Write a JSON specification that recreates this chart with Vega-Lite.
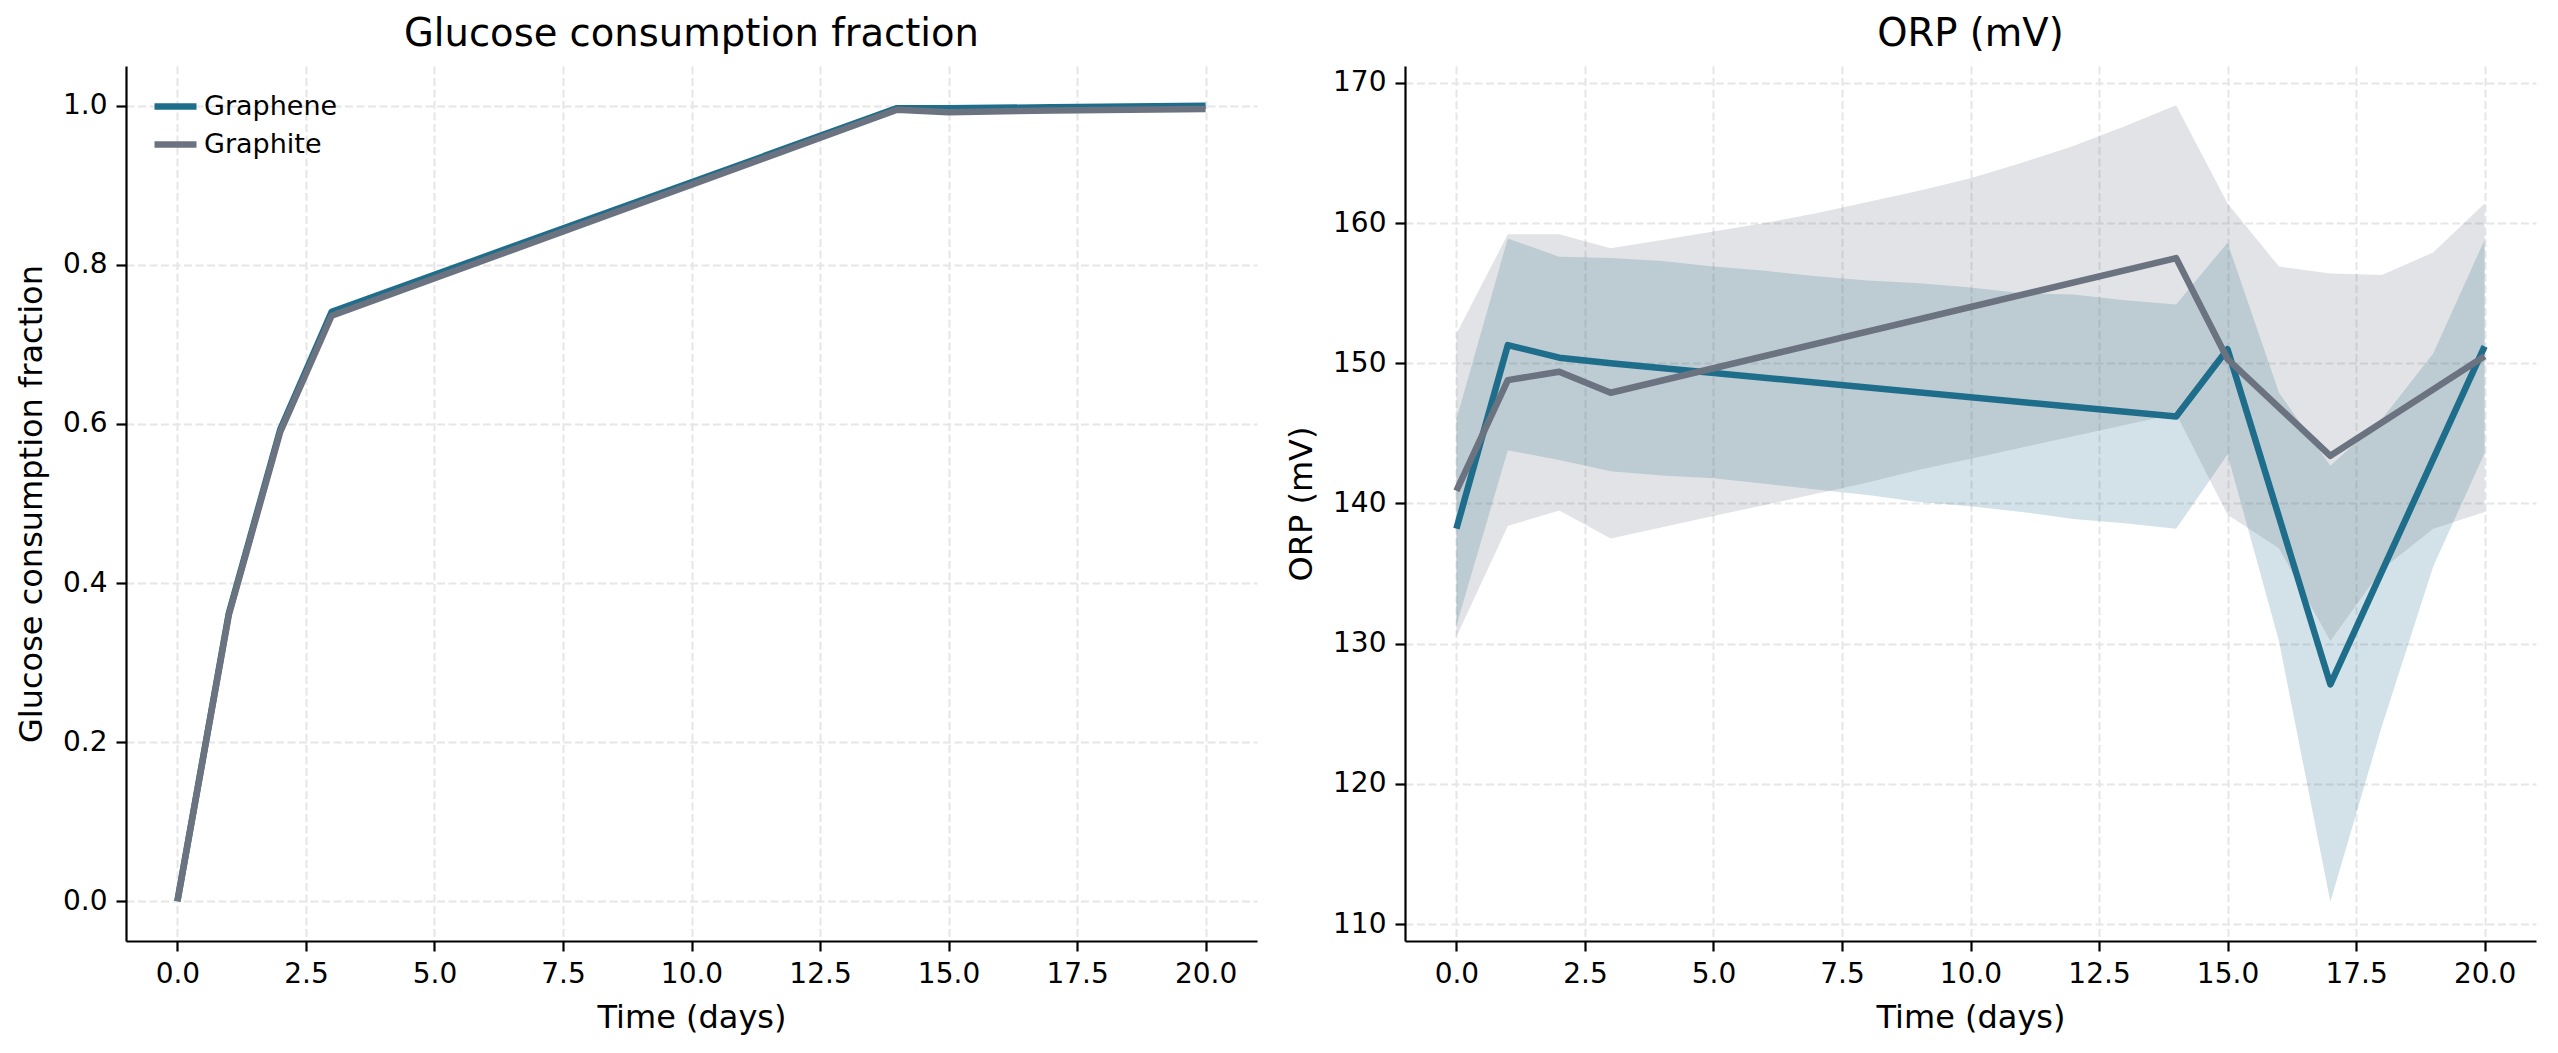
{
  "$schema": "https://vega.github.io/schema/vega-lite/v6.json",
  "background": "white",
  "padding": {"left": 15, "top": 14, "right": 18, "bottom": 20},
  "bounds": "flush",
  "spacing": 148,
  "datasets": {
    "glucose": [
      {"day": 0, "material": "Graphene", "fraction": 0.0},
      {"day": 1, "material": "Graphene", "fraction": 0.362},
      {"day": 2, "material": "Graphene", "fraction": 0.593},
      {"day": 3, "material": "Graphene", "fraction": 0.741},
      {"day": 14, "material": "Graphene", "fraction": 0.997},
      {"day": 15, "material": "Graphene", "fraction": 0.997},
      {"day": 17, "material": "Graphene", "fraction": 0.998},
      {"day": 20, "material": "Graphene", "fraction": 1.0},
      {"day": 0, "material": "Graphite", "fraction": 0.0},
      {"day": 1, "material": "Graphite", "fraction": 0.36},
      {"day": 2, "material": "Graphite", "fraction": 0.59},
      {"day": 3, "material": "Graphite", "fraction": 0.736},
      {"day": 14, "material": "Graphite", "fraction": 0.995},
      {"day": 15, "material": "Graphite", "fraction": 0.992},
      {"day": 17, "material": "Graphite", "fraction": 0.994},
      {"day": 20, "material": "Graphite", "fraction": 0.996}
    ],
    "orp": [
      {"day": 0, "material": "Graphene", "orp": 138.2},
      {"day": 1, "material": "Graphene", "orp": 151.3},
      {"day": 2, "material": "Graphene", "orp": 150.4},
      {"day": 3, "material": "Graphene", "orp": 150.0},
      {"day": 14, "material": "Graphene", "orp": 146.2},
      {"day": 15, "material": "Graphene", "orp": 151.0},
      {"day": 17, "material": "Graphene", "orp": 127.1},
      {"day": 20, "material": "Graphene", "orp": 151.2},
      {"day": 0, "material": "Graphite", "orp": 140.9},
      {"day": 1, "material": "Graphite", "orp": 148.8},
      {"day": 2, "material": "Graphite", "orp": 149.4},
      {"day": 3, "material": "Graphite", "orp": 147.9},
      {"day": 14, "material": "Graphite", "orp": 157.5},
      {"day": 15, "material": "Graphite", "orp": 150.3},
      {"day": 17, "material": "Graphite", "orp": 143.4},
      {"day": 20, "material": "Graphite", "orp": 150.5}
    ],
    "orp_band": [
      {"day": 0, "material": "Graphene", "lo": 131.3, "hi": 146.0},
      {"day": 1, "material": "Graphene", "lo": 143.8, "hi": 158.9},
      {"day": 2, "material": "Graphene", "lo": 143.1, "hi": 157.6},
      {"day": 3, "material": "Graphene", "lo": 142.3, "hi": 157.5},
      {"day": 4, "material": "Graphene", "lo": 142.0, "hi": 157.3},
      {"day": 5, "material": "Graphene", "lo": 141.8, "hi": 156.9},
      {"day": 6, "material": "Graphene", "lo": 141.4, "hi": 156.6},
      {"day": 7, "material": "Graphene", "lo": 141.0, "hi": 156.2},
      {"day": 8, "material": "Graphene", "lo": 140.6, "hi": 155.9},
      {"day": 9, "material": "Graphene", "lo": 140.1, "hi": 155.7},
      {"day": 10, "material": "Graphene", "lo": 139.8, "hi": 155.4},
      {"day": 11, "material": "Graphene", "lo": 139.4, "hi": 155.0},
      {"day": 12, "material": "Graphene", "lo": 138.9, "hi": 154.9},
      {"day": 13, "material": "Graphene", "lo": 138.6, "hi": 154.5},
      {"day": 14, "material": "Graphene", "lo": 138.2, "hi": 154.2},
      {"day": 15, "material": "Graphene", "lo": 143.5, "hi": 158.6},
      {"day": 16, "material": "Graphene", "lo": 130.2, "hi": 147.9},
      {"day": 17, "material": "Graphene", "lo": 111.6, "hi": 142.7},
      {"day": 18, "material": "Graphene", "lo": 124.1, "hi": 146.0},
      {"day": 19, "material": "Graphene", "lo": 135.5, "hi": 150.7},
      {"day": 20, "material": "Graphene", "lo": 143.6, "hi": 158.8},
      {"day": 0, "material": "Graphite", "lo": 130.5, "hi": 152.1},
      {"day": 1, "material": "Graphite", "lo": 138.4, "hi": 159.2},
      {"day": 2, "material": "Graphite", "lo": 139.5, "hi": 159.2},
      {"day": 3, "material": "Graphite", "lo": 137.5, "hi": 158.2},
      {"day": 4, "material": "Graphite", "lo": 138.3, "hi": 158.8},
      {"day": 5, "material": "Graphite", "lo": 139.1, "hi": 159.4},
      {"day": 6, "material": "Graphite", "lo": 139.9, "hi": 160.0},
      {"day": 7, "material": "Graphite", "lo": 140.7, "hi": 160.7},
      {"day": 8, "material": "Graphite", "lo": 141.5, "hi": 161.5},
      {"day": 9, "material": "Graphite", "lo": 142.4, "hi": 162.3},
      {"day": 10, "material": "Graphite", "lo": 143.2, "hi": 163.2},
      {"day": 11, "material": "Graphite", "lo": 144.0, "hi": 164.3},
      {"day": 12, "material": "Graphite", "lo": 144.8, "hi": 165.5},
      {"day": 13, "material": "Graphite", "lo": 145.6, "hi": 166.9},
      {"day": 14, "material": "Graphite", "lo": 146.4, "hi": 168.4},
      {"day": 15, "material": "Graphite", "lo": 139.2, "hi": 161.4},
      {"day": 16, "material": "Graphite", "lo": 136.8, "hi": 156.9},
      {"day": 17, "material": "Graphite", "lo": 130.2, "hi": 156.4},
      {"day": 18, "material": "Graphite", "lo": 135.3, "hi": 156.3},
      {"day": 19, "material": "Graphite", "lo": 138.2, "hi": 157.9},
      {"day": 20, "material": "Graphite", "lo": 139.4, "hi": 161.4}
    ]
  },
  "hconcat": [
    {
      "width": 1131,
      "height": 875,
      "title": "Glucose consumption fraction",
      "data": {"name": "glucose"},
      "mark": {"type": "line", "strokeWidth": 6.5, "strokeJoin": "round"},
      "encoding": {
        "x": {
          "field": "day", "type": "quantitative",
          "scale": {"domain": [-1, 21], "nice": false, "zero": false},
          "axis": {"values": [0, 2.5, 5, 7.5, 10, 12.5, 15, 17.5, 20], "format": ".1f", "title": "Time (days)"}
        },
        "y": {
          "field": "fraction", "type": "quantitative",
          "scale": {"domain": [-0.05, 1.05], "nice": false, "zero": false},
          "axis": {"values": [0, 0.2, 0.4, 0.6, 0.8, 1.0], "format": ".1f", "title": "Glucose consumption fraction"}
        },
        "color": {
          "field": "material", "type": "nominal",
          "scale": {"domain": ["Graphene", "Graphite"], "range": ["#1e6e8b", "#6b7280"]},
          "legend": {
            "orient": "none", "legendX": 25, "legendY": 16, "title": null,
            "symbolType": "stroke", "symbolSize": 1764, "symbolStrokeWidth": 6.5,
            "labelFontSize": 27, "labelColor": "#000", "labelOffset": 4, "rowPadding": 0
          }
        }
      }
    },
    {
      "width": 1131,
      "height": 875,
      "title": "ORP (mV)",
      "layer": [
        {
          "data": {"name": "orp_band"},
          "mark": {"type": "area", "opacity": 0.2},
          "encoding": {
            "x": {"field": "day", "type": "quantitative"},
            "y": {"field": "lo", "type": "quantitative"},
            "y2": {"field": "hi"},
            "color": {"field": "material", "type": "nominal"}
          }
        },
        {
          "data": {"name": "orp"},
          "mark": {"type": "line", "strokeWidth": 6.5, "strokeJoin": "round"},
          "encoding": {
            "x": {
              "field": "day", "type": "quantitative",
              "scale": {"domain": [-1, 21], "nice": false, "zero": false},
              "axis": {"values": [0, 2.5, 5, 7.5, 10, 12.5, 15, 17.5, 20], "format": ".1f", "title": "Time (days)"}
            },
            "y": {
              "field": "orp", "type": "quantitative",
              "scale": {"domain": [108.8, 171.2], "nice": false, "zero": false},
              "axis": {"values": [110, 120, 130, 140, 150, 160, 170], "format": "d", "title": "ORP (mV)"}
            },
            "color": {
              "field": "material", "type": "nominal",
              "scale": {"domain": ["Graphene", "Graphite"], "range": ["#1e6e8b", "#6b7280"]},
              "legend": null
            }
          }
        }
      ]
    }
  ],
  "resolve": {"scale": {"color": "independent"}, "legend": {"color": "independent"}},
  "config": {
    "font": "DejaVu Sans",
    "view": {"stroke": null},
    "axis": {
      "domainColor": "#000", "domainWidth": 2.2,
      "tickColor": "#000", "tickWidth": 2.2, "tickSize": 10,
      "labelPadding": 9, "labelFontSize": 28, "labelColor": "#000",
      "titleFontSize": 32, "titleFontWeight": "normal", "titleColor": "#000",
      "titlePadding": 14,
      "grid": true, "gridColor": "#e6e6e6", "gridDash": [8, 3.5], "gridWidth": 2
    },
    "title": {"fontSize": 38.5, "fontWeight": "normal", "color": "#000", "offset": 12}
  }
}
